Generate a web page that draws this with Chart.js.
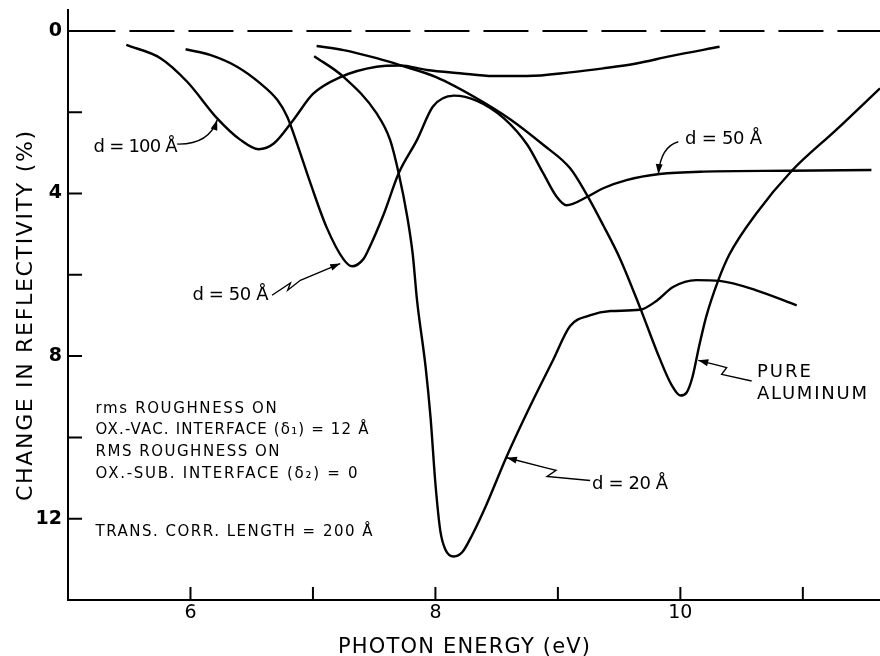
<!DOCTYPE html>
<html lang="en">
<head>
<meta charset="UTF-8">
<title>Change in reflectivity vs photon energy</title>
<script src="https://cdn.jsdelivr.net/npm/chart.js@4"></script>
<style>
  body { margin: 0; background: #fff; }
  #wrap { width: 880px; height: 656px; position: relative; }
</style>
</head>
<body>
<div id="wrap"><canvas id="chart"></canvas></div>
<script>
// ---- data (x = photon energy in eV, y = change in reflectivity in %) ----
const pureX = [7.03, 7.25, 7.52, 7.71, 8.01, 8.34, 8.61, 8.88, 9.10, 9.24, 9.37, 9.51, 9.67, 9.83, 9.93, 10.0, 10.05, 10.10, 10.15, 10.21, 10.31, 10.40, 10.62, 10.91, 11.27, 11.63];
const pureY = [0.37, 0.47, 0.67, 0.84, 1.14, 1.66, 2.17, 2.80, 3.38, 4.05, 4.78, 5.62, 6.80, 8.05, 8.72, 8.97, 8.90, 8.50, 7.80, 7.04, 6.13, 5.50, 4.49, 3.44, 2.44, 1.41];

const d100X = [5.476, 5.755, 5.973, 6.218, 6.408, 6.557, 6.68, 6.84, 7.0, 7.22, 7.52, 7.71, 7.93, 8.20, 8.47, 8.75, 9.10, 9.37, 9.64, 9.92, 10.32];
const d100Y = [0.345, 0.67, 1.25, 2.15, 2.68, 2.91, 2.77, 2.19, 1.55, 1.14, 0.88, 0.85, 0.96, 1.04, 1.11, 1.11, 1.02, 0.92, 0.80, 0.62, 0.39];

const d50X = [5.96, 6.16, 6.38, 6.57, 6.71, 6.79, 6.87, 6.98, 7.11, 7.25, 7.32, 7.41, 7.45, 7.58, 7.70, 7.85, 7.98, 8.15, 8.34, 8.56, 8.75, 8.88, 8.99, 9.07, 9.24, 9.37, 9.56, 9.83, 10.19, 10.89, 11.56];
const d50Y = [0.45, 0.59, 0.88, 1.29, 1.70, 2.11, 2.77, 3.75, 4.82, 5.62, 5.79, 5.62, 5.40, 4.49, 3.50, 2.68, 1.86, 1.59, 1.72, 2.15, 2.80, 3.50, 4.08, 4.29, 4.08, 3.87, 3.67, 3.52, 3.46, 3.44, 3.42];

const d20X = [7.01, 7.25, 7.52, 7.63, 7.70, 7.77, 7.815, 7.85, 7.92, 7.96, 8.0, 8.04, 8.08, 8.15, 8.22, 8.30, 8.42, 8.58, 8.77, 8.96, 9.10, 9.26, 9.43, 9.67, 9.81, 9.94, 10.13, 10.32, 10.62, 10.95];
const d20Y = [0.62, 1.13, 2.03, 2.68, 3.50, 4.57, 5.50, 6.63, 8.27, 9.50, 11.14, 12.30, 12.75, 12.93, 12.82, 12.40, 11.63, 10.48, 9.25, 8.10, 7.26, 7.00, 6.89, 6.86, 6.63, 6.30, 6.13, 6.15, 6.38, 6.75];

const zeroX = [5.02, 11.63];
const zeroY = [0, 0];

const xTicks = [6, 7, 8, 9, 10, 11];
const xLabels = ['6', '', '8', '', '10', ''];
const yTicks = [0, 2, 4, 6, 8, 10, 12];
const yLabels = ['0', '', '4', '', '8', '', '12'];

// ---- annotations (placed in data units) ----
const notes = [
  { text: 'd = 100 Å', x: 5.209, y: 2.98, size: 18, w: 84 },
  { text: 'd = 50 Å', x: 6.016, y: 6.626, size: 18, w: 76 },
  { text: 'd = 50 Å', x: 10.038, y: 2.783, size: 18, w: 77 },
  { text: 'PURE', x: 10.625, y: 8.522, size: 18, w: 54 },
  { text: 'ALUMINUM', x: 10.625, y: 9.064, size: 18, w: 110 },
  { text: 'd = 20 Å', x: 9.279, y: 11.281, size: 18, w: 76 },
  { text: 'rms ROUGHNESS ON', x: 5.225, y: 9.409, size: 15, w: 181 },
  { text: 'OX.-VAC. INTERFACE (δ₁) = 12 Å', x: 5.225, y: 9.926, size: 15, w: 273 },
  { text: 'RMS ROUGHNESS ON', x: 5.225, y: 10.468, size: 15, w: 184 },
  { text: 'OX.-SUB. INTERFACE (δ₂) = 0', x: 5.225, y: 11.01, size: 15, w: 262 },
  { text: 'TRANS. CORR. LENGTH = 200 Å', x: 5.225, y: 12.414, size: 15, w: 277 }
];

// tail -> tip; curved ones use a quadratic control point in the middle
const arrows = [
  { curved: true, pts: [[5.892, 2.783], [6.15, 2.80], [6.218, 2.192]] },
  { curved: false, pts: [[6.666, 6.502], [6.816, 6.20], [6.794, 6.379], [6.897, 6.133], [7.223, 5.722]] },
  { curved: true, pts: [[9.983, 2.727], [9.84, 2.85], [9.82, 3.522]] },
  { curved: false, pts: [[10.582, 8.613], [10.337, 8.448], [10.378, 8.283], [10.309, 8.227], [10.146, 8.103]] },
  { curved: false, pts: [[9.263, 11.06], [8.912, 10.96], [8.985, 10.81], [8.92, 10.76], [8.583, 10.50]] }
];

const FONT = '"DejaVu Sans", sans-serif';
const toPts = (xs, ys) => xs.map((v, i) => ({ x: v, y: ys[i] }));

function fitText(ctx, text, x, y, width, size, bold) {
  ctx.font = (bold ? 'bold ' : '') + size + 'px ' + FONT;
  ctx.letterSpacing = '0px';
  const w = ctx.measureText(text).width;
  const n = [...text].length;
  ctx.letterSpacing = ((width - w) / (n - 1)).toFixed(2) + 'px';
  ctx.fillText(text, x, y);
  ctx.letterSpacing = '0px';
}

function head(ctx, tip, from) {
  const a = Math.atan2(tip[1] - from[1], tip[0] - from[0]);
  const L = 10, H = 3.5;
  ctx.beginPath();
  ctx.moveTo(tip[0], tip[1]);
  ctx.lineTo(tip[0] - L * Math.cos(a) + H * Math.sin(a), tip[1] - L * Math.sin(a) - H * Math.cos(a));
  ctx.lineTo(tip[0] - L * Math.cos(a) - H * Math.sin(a), tip[1] - L * Math.sin(a) + H * Math.cos(a));
  ctx.closePath();
  ctx.fill();
}

const decorations = {
  id: 'decorations',
  afterDraw(chart) {
    const { ctx, chartArea: area, scales: { x, y } } = chart;
    const px = v => x.getPixelForValue(v);
    const py = v => y.getPixelForValue(v);
    ctx.save();
    ctx.strokeStyle = '#000';
    ctx.fillStyle = '#000';

    // axes and inward tick marks
    ctx.lineWidth = 2;
    ctx.beginPath();
    ctx.moveTo(area.left, area.top);
    ctx.lineTo(area.left, area.bottom);
    ctx.lineTo(area.right, area.bottom);
    yTicks.forEach(v => { ctx.moveTo(area.left, py(v)); ctx.lineTo(area.left + 14, py(v)); });
    xTicks.forEach(v => { ctx.moveTo(px(v), area.bottom); ctx.lineTo(px(v), area.bottom - 13); });
    ctx.stroke();

    // axis titles
    ctx.textAlign = 'left';
    ctx.textBaseline = 'alphabetic';
    fitText(ctx, 'PHOTON ENERGY (eV)', 338, 653, 252, 21);
    ctx.save();
    ctx.translate(32, 501);
    ctx.rotate(-Math.PI / 2);
    fitText(ctx, 'CHANGE IN REFLECTIVITY (%)', 0, 0, 370, 22);
    ctx.restore();

    // labels
    notes.forEach(n => fitText(ctx, n.text, px(n.x), py(n.y), n.w, n.size, n.bold));

    // arrows
    ctx.lineWidth = 1.4;
    arrows.forEach(a => {
      const p = a.pts.map(q => [px(q[0]), py(q[1])]);
      ctx.beginPath();
      ctx.moveTo(p[0][0], p[0][1]);
      if (a.curved) ctx.quadraticCurveTo(p[1][0], p[1][1], p[2][0], p[2][1]);
      else p.slice(1).forEach(q => ctx.lineTo(q[0], q[1]));
      ctx.stroke();
      head(ctx, p[p.length - 1], p[p.length - 2]);
    });
    ctx.restore();
  }
};

const curve = (data) => ({
  data,
  borderColor: '#000',
  borderWidth: 2.4,
  pointRadius: 0,
  cubicInterpolationMode: 'monotone',
  fill: false
});

new Chart(document.getElementById('chart'), {
  type: 'line',
  data: {
    datasets: [
      { data: toPts(zeroX, zeroY), borderColor: '#000', borderWidth: 2, borderDash: [45, 14], pointRadius: 0 },
      curve(toPts(d100X, d100Y)),
      curve(toPts(d50X, d50Y)),
      curve(toPts(d20X, d20Y)),
      curve(toPts(pureX, pureY))
    ]
  },
  options: {
    responsive: true,
    maintainAspectRatio: false,
    animation: false,
    devicePixelRatio: 1,
    layout: { padding: { top: 9, right: 0, bottom: 0, left: 0 } },
    plugins: { legend: { display: false }, tooltip: { enabled: false } },
    scales: {
      x: {
        type: 'linear',
        min: 5,
        max: 11.63,
        grid: { display: false, drawTicks: false },
        border: { display: false },
        afterBuildTicks: s => { s.ticks = xTicks.map(v => ({ value: v })); },
        afterFit: s => { s.height = 56; s.paddingLeft = 0; s.paddingRight = 0; },
        ticks: {
          autoSkip: false,
          maxRotation: 0,
          padding: 2,
          color: '#000',
          font: { family: FONT, size: 19 },
          callback: v => xLabels[xTicks.indexOf(v)]
        }
      },
      y: {
        type: 'linear',
        reverse: true,
        min: -0.54,
        max: 14,
        grid: { display: false, drawTicks: false },
        border: { display: false },
        afterBuildTicks: s => { s.ticks = yTicks.map(v => ({ value: v })); },
        afterFit: s => { s.width = 68; s.paddingTop = 0; s.paddingBottom = 0; },
        ticks: {
          autoSkip: false,
          padding: 6,
          color: '#000',
          font: { family: FONT, size: 19, weight: 'bold' },
          callback: v => yLabels[yTicks.indexOf(v)]
        }
      }
    }
  },
  plugins: [decorations]
});
</script>
</body>
</html>
